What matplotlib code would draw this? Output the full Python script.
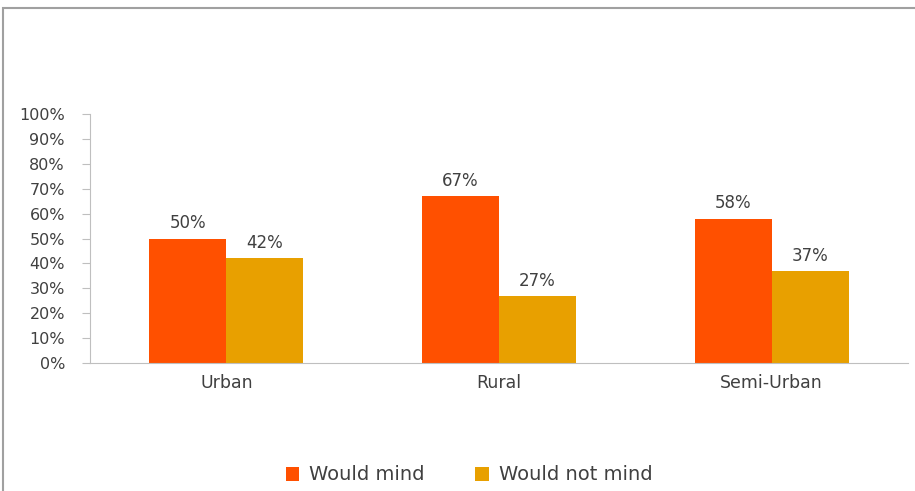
import matplotlib
matplotlib.use("Agg")
import matplotlib.pyplot as plt
from matplotlib.patches import Rectangle
import numpy as np

categories = ["Urban", "Rural", "Semi-Urban"]
would_mind = [50, 67, 58]
would_not_mind = [42, 27, 37]
series_names = ["Would mind", "Would not mind"]
y_ticks = [0, 10, 20, 30, 40, 50, 60, 70, 80, 90, 100]

ORANGE = "#FF5000"
GOLD = "#E8A000"
TEXT = "#404040"
GRID = "#BFBFBF"

plt.rcParams["font.family"] = ["DejaVu Sans"]

fig = plt.figure(figsize=(9.15, 4.91), dpi=100)
fig.patch.set_facecolor("white")

# outer chart frame, runs off the right and bottom edges
frame = Rectangle((3 / 915, -0.2), 1.2, 0.2 + (491 - 8) / 491,
                  transform=fig.transFigure, fill=False,
                  edgecolor="#A0A0A0", linewidth=1.5)
fig.patches.append(frame)

ax = fig.add_axes([90 / 915, (491 - 363) / 491, 818 / 915, 249 / 491])

x = np.arange(len(categories))
w = 0.283
b1 = ax.bar(x - w / 2, would_mind, w, color=ORANGE, label=series_names[0])
b2 = ax.bar(x + w / 2, would_not_mind, w, color=GOLD, label=series_names[1])

for bars, vals in ((b1, would_mind), (b2, would_not_mind)):
    for r, v in zip(bars, vals):
        ax.text(r.get_x() + r.get_width() / 2, v + 2.5, f"{v}%",
                ha="center", va="bottom", fontsize=12, color=TEXT)

ax.set_xlim(-0.5, 2.5)
ax.set_ylim(0, 100)
ax.set_yticks(y_ticks)
ax.set_yticklabels([f"{t}%" for t in y_ticks])
ax.set_xticks(x)
ax.set_xticklabels(categories)
ax.tick_params(axis="y", colors=GRID, labelcolor=TEXT, labelsize=11.5,
               length=6, pad=12)
ax.tick_params(axis="x", length=0, labelcolor=TEXT, labelsize=12.5, pad=8)

for s in ("top", "right"):
    ax.spines[s].set_visible(False)
ax.spines["left"].set_color(GRID)
ax.spines["bottom"].set_color(GRID)

leg = fig.legend(handles=[b1, b2], labels=series_names, loc="center",
                 bbox_to_anchor=(469 / 915, (491 - 475) / 491), ncol=2,
                 frameon=False, fontsize=14, handlelength=0.7,
                 handleheight=0.7, handletextpad=0.5, columnspacing=2.6)
for t in leg.get_texts():
    t.set_color(TEXT)

fig.savefig("out.png", dpi=100, facecolor="white")
